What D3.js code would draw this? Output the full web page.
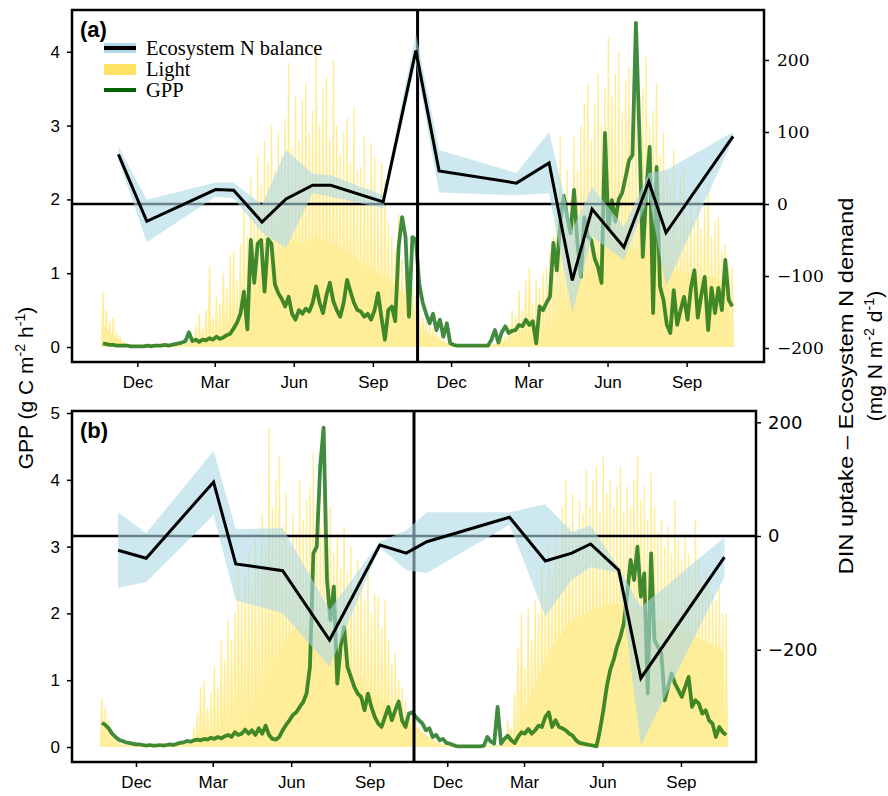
<!DOCTYPE html>
<html>
<head>
<meta charset="utf-8">
<script src="https://cdnjs.cloudflare.com/ajax/libs/d3/7.8.5/d3.min.js"></script>
<style>
  body { margin: 0; background: #fff; }
  svg { display: block; }
</style>
</head>
<body>
<svg></svg>
<script>
const WIDTH = 888;
const HEIGHT = 796;

// series sampled every 4 days (GPP, light peaks) or 8 days (light base) from this day
const startDay = "2016-10-22";
const splitDay = "2017-10-23";

const monthTicks = ["2016-12-01", "2017-03-01", "2017-06-01", "2017-09-01",
                    "2017-12-01", "2018-03-01", "2018-06-01", "2018-09-01"];

// ---- panel (a)
const gppA = [0.05,0.04,0.03,0.03,0.02,0.02,0.02,
  0.02,0.01,0.01,0.01,0.01,0.01,0.02,0.01,0.02,0.02,0.02,0.03,0.02,0.03,
  0.04,0.05,0.06,0.08,0.2,
  0.08,0.1,0.07,0.1,0.09,0.12,0.1,0.14,0.11,0.13,
  0.16,0.18,0.25,0.33,0.45,
  0.75,0.24,1.45,0.87,1.4,1.45,0.75,1.46,1.4,0.85,
  0.73,0.65,0.55,0.68,0.45,0.37,0.5,0.45,0.52,0.48,
  0.6,0.82,0.6,0.46,0.7,0.87,0.62,0.5,0.41,0.6,
  0.91,0.75,0.6,0.5,0.48,0.41,0.45,0.37,0.5,0.73,
  0.4,0.1,0.5,0.55,0.35,1.36,1.76,1.49,0.41,1.49,
  1.45,0.85,0.6,0.45,0.32,0.45,0.23,0.37,0.14,0.32,
  0.05,0.03,0.02,0.02,0.02,0.02,0.02,0.02,0.02,0.02,0.02,0.02,
  0.1,0.23,0.06,0.2,0.28,0.19,0.22,0.23,0.3,0.28,
  0.37,0.3,0.35,0.05,0.55,0.5,0.6,0.68,
  1.41,1.04,1.7,2.05,1.76,1.54,2.13,1.4,0.95,1.76,
  1.5,1.45,1.2,1.08,0.87,2.9,1.6,1.99,1.7,2.0,
  2.09,2.3,2.53,2.6,4.39,2.9,1.22,2.1,2.71,0.46,
  2.44,0.82,0.64,0.3,0.19,0.77,0.3,0.5,0.68,0.37,
  0.8,1.04,0.4,0.7,0.95,0.23,0.8,0.46,0.8,0.5,
  1.18,0.64,0.55];

const lightPeakA = [0.75,0.5,0.35,0.4,0.2,0.15,0.08,
  0.04,0.05,0.03,0.04,0.03,0.05,0.03,0.04,0.03,0.04,0.05,0.03,0.04,0.05,0.04,0.06,0.05,0.07,
  0.1,0.15,0.3,0.45,0.25,0.5,
  1.1,0.4,0.7,0.6,1.0,0.8,1.25,1.3,0.9,1.4,
  2.0,1.5,2.3,1.9,2.6,2.2,2.8,2.5,3.0,2.4,
  2.9,2.6,3.1,3.85,2.7,3.4,2.8,3.35,3.58,2.9,
  3.2,4.1,3.0,3.5,3.66,2.8,3.9,3.0,2.6,2.9,
  3.1,2.5,3.25,2.4,2.44,2.85,2.2,2.76,2.57,2.0,
  2.5,2.26,1.7,1.5,1.3,1.8,1.2,1.0,0.9,0.8,
  0.7,0.5,0.4,0.35,0.3,0.25,0.2,0.15,0.1,0.06,
  0.03,0.03,0.03,0.03,0.03,0.03,0.03,0.03,0.03,0.03,0.03,0.03,0.03,0.03,
  0.05,0.1,0.15,0.3,0.5,0.4,
  0.77,0.5,0.9,1.08,0.6,0.9,0.8,1.0,1.08,1.3,
  1.5,1.76,2.85,1.8,2.4,2.0,2.85,2.4,3.0,3.3,
  3.58,2.8,3.3,3.7,3.0,3.5,4.2,3.4,3.7,4.0,
  3.2,3.6,3.8,3.0,3.4,2.9,3.5,3.93,3.0,3.2,
  3.58,2.6,2.9,2.4,2.2,2.67,2.0,2.3,2.44,1.8,
  2.1,1.7,2.2,1.6,1.9,2.2,1.5,1.7,1.76,1.3,
  1.4,1.1,1.08];

const lightBaseA = [0.3,0.2,0.12,0.06,0.03,
  0.02,0.02,0.02,0.02,0.02,0.02,0.02,0.02,
  0.04,0.06,0.1,0.12,0.15,0.2,0.25,0.35,
  0.5,0.8,1.0,1.2,1.3,1.35,1.4,1.45,1.4,1.45,
  1.5,1.45,1.4,1.4,1.3,1.25,1.2,1.1,1.05,1.0,
  0.95,0.9,0.8,0.7,0.55,0.3,0.2,0.15,0.1,0.05,
  0.02,0.02,0.02,0.02,0.02,0.02,
  0.04,0.06,0.08,0.1,0.12,0.15,0.2,0.25,0.3,0.4,
  0.5,0.7,0.85,0.95,1.05,1.2,1.3,1.35,1.4,1.4,
  1.35,1.3,1.25,1.2,1.15,1.1,1.05,1.0,1.0,1.0,
  0.95,0.95,0.95,0.9,0.9];

const nDatesA = ["2016-11-09","2016-12-12","2017-03-02","2017-03-23","2017-04-25","2017-05-23",
  "2017-06-23","2017-07-14","2017-09-13","2017-10-21","2017-11-17","2018-02-15","2018-03-25",
  "2018-04-21","2018-05-14","2018-06-20","2018-07-19","2018-08-08","2018-10-25"];
const nBalanceA = [69,-24,20,19,-25,7,26,26,3,213,46,29,57,-106,-7,-60,31,-40,94];
const nLowA     = [62,-53,10,8,-40,-61,15,10,-6,196,16,12,15,-152,-45,-78,10,-115,90];
const nHighA    = [80,6,30,30,-1,75,42,40,12,237,75,43,100,-36,24,-32,43,47,100];

// ---- panel (b)
const gppB = [0.36,0.33,0.28,0.2,0.15,0.11,0.09,0.07,0.06,0.05,
  0.04,0.04,0.03,0.02,0.03,0.02,0.02,0.03,0.02,0.03,
  0.04,0.03,0.05,0.06,0.07,0.09,0.08,0.1,0.11,0.1,
  0.12,0.11,0.14,0.12,0.15,0.13,0.16,0.18,0.15,0.22,
  0.18,0.2,0.26,0.2,0.25,0.18,0.28,0.2,0.32,0.18,
  0.12,0.11,0.15,0.25,0.33,0.4,0.48,0.52,0.6,0.67,
  0.8,1.2,2.9,3.0,4.2,4.78,2.5,1.9,2.4,0.95,
  1.5,1.8,1.2,1.05,0.9,0.8,0.75,0.55,0.8,0.6,
  0.45,0.35,0.3,0.45,0.6,0.4,0.55,0.68,0.4,0.3,
  0.5,0.52,0.45,0.4,0.35,0.25,0.28,0.15,0.18,0.1,
  0.12,0.06,0.05,0.03,0.01,0.01,0.01,0.01,0.01,0.01,
  0.01,0.01,0.02,0.15,0.08,0.05,0.6,0.05,0.12,0.17,
  0.1,0.06,0.15,0.22,0.2,0.27,0.2,0.25,0.32,0.3,
  0.45,0.52,0.3,0.4,0.3,0.28,0.25,0.2,0.17,0.1,
  0.06,0.05,0.04,0.03,0.02,0.01,0.25,0.55,0.9,1.15,
  1.3,1.5,1.65,1.85,2.3,2.8,2.5,3.0,2.25,2.6,
  0.8,2.9,1.6,1.5,1.4,0.7,0.9,1.1,0.95,0.85,
  0.75,0.9,1.05,0.6,0.7,0.65,0.5,0.55,0.4,0.35,
  0.15,0.3,0.22,0.18];

const lightPeakB = [0.73,0.6,0.4,0.25,0.15,0.1,
  0.04,0.05,0.04,0.06,0.04,0.05,0.04,0.05,0.06,0.04,0.05,0.04,0.06,0.05,0.04,0.06,0.05,0.07,0.06,0.08,
  0.1,0.3,0.5,0.9,1.0,
  0.6,0.8,1.2,0.9,1.6,1.3,1.9,1.6,2.0,2.7,
  2.2,2.6,2.9,2.4,3.1,2.7,3.5,3.0,4.77,3.6,
  4.0,4.35,3.3,3.8,3.0,3.5,3.2,4.0,3.4,3.7,
  3.9,4.4,3.6,3.3,3.8,3.0,3.6,2.9,3.2,2.7,
  3.3,2.6,3.0,2.4,2.8,2.5,2.2,2.6,2.0,2.3,
  2.25,1.8,2.2,1.6,1.25,1.4,1.0,0.9,0.7,0.5,
  0.45,0.4,0.3,0.25,0.2,0.15,0.12,0.08,0.06,
  0.03,0.03,0.03,0.03,0.03,0.03,0.03,0.03,0.03,0.03,0.03,0.03,0.03,0.03,0.03,0.03,0.03,0.03,
  0.1,0.4,0.3,
  0.8,1.5,2.0,1.2,2.1,1.6,2.2,2.0,2.7,2.3,
  3.0,2.6,3.3,2.9,3.6,4.0,3.3,3.8,3.2,3.7,
  3.5,4.15,3.6,4.0,4.2,3.5,4.34,3.8,4.0,3.6,
  3.9,4.2,3.5,3.9,3.6,4.0,4.35,3.7,3.9,3.4,
  4.1,3.6,3.2,3.4,3.0,3.3,2.9,3.7,3.1,2.8,
  3.2,2.9,2.6,3.4,2.8,2.5,2.7,2.5,2.3,2.2,
  2.4,2.0,2.0];

const lightBaseB = [0.3,0.15,0.05,0.03,
  0.02,0.02,0.02,0.02,0.02,0.02,0.02,0.02,0.02,
  0.03,0.05,0.08,0.1,0.13,0.18,0.25,0.35,
  0.45,0.6,0.8,1.0,1.2,1.4,1.6,1.75,1.8,1.8,
  1.8,1.7,1.6,1.5,1.35,1.2,1.05,0.95,0.85,0.75,
  0.65,0.55,0.5,0.45,0.38,0.3,0.22,0.15,0.08,0.04,
  0.02,0.02,0.02,0.02,0.02,0.02,0.02,0.02,
  0.05,0.12,0.3,0.55,0.8,1.05,1.3,1.5,1.65,1.8,
  1.9,1.95,2.0,2.05,2.1,2.15,2.15,2.15,2.1,2.05,
  2.05,2.0,1.95,1.9,1.85,1.8,1.75,1.7,1.65,1.6,
  1.55,1.5,1.45];

const nDatesB = ["2016-11-10","2016-12-13","2017-03-02","2017-03-28","2017-05-22","2017-07-16",
  "2017-09-13","2017-10-14","2017-11-07","2018-02-12","2018-03-26","2018-04-26","2018-05-18",
  "2018-06-20","2018-07-16","2018-10-22"];
const nBalanceB = [-25,-39,95,-49,-61,-183,-16,-30,-10,33,-44,-30,-14,-60,-250,-37];
const nLowB     = [-91,-81,37,-113,-136,-230,-20,-60,-65,20,-141,-77,-55,-64,-368,-72];
const nHighB    = [42,5,150,12,14,-130,-10,10,42,42,56,7,19,-56,-125,-2];

const legendLabels = ["Ecosystem N balance", "Light", "GPP"];

// ---- layout
const C = {
  light: "#ffee99", lightKey: "#ffe264", gpp: "#006400",
  band: "#add8e6", sans: "'Liberation Sans', Arial, Helvetica, sans-serif",
  narrow: "'Liberation Sans Narrow', 'Arial Narrow', 'Liberation Sans', sans-serif"
};

const panels = [
  { label: "(a)", top: 10, bottom: 362, left: 72, right: 764,
    xDomain: ["2016-09-16", "2018-11-30"], gppDomain: [-0.203, 4.566], nDomain: [-219.4, 269.4],
    gppTicks: [0, 1, 2, 3, 4], nTicks: [-200, -100, 0, 100, 200],
    nFont: "'DejaVu Serif', serif", nFontSize: 17, nPad: 8,
    gpp: gppA, peak: lightPeakA, base: lightBaseA,
    nDates: nDatesA, n: nBalanceA, lo: nLowA, hi: nHighA, legend: true },
  { label: "(b)", top: 411, bottom: 762, left: 72, right: 756,
    xDomain: ["2016-09-17", "2018-11-28"], gppDomain: [-0.2246, 5.03], nDomain: [-397.5, 219.9],
    gppTicks: [0, 1, 2, 3, 4, 5], nTicks: [-200, 0, 200],
    nFont: "'DejaVu Sans', sans-serif", nFontSize: 18, nPad: 7,
    gpp: gppB, peak: lightPeakB, base: lightBaseB,
    nDates: nDatesB, n: nBalanceB, lo: nLowB, hi: nHighB, legend: false }
];

const parseDay = d3.timeParse("%Y-%m-%d");
const t0 = parseDay(startDay);
const stepDates = (n, step) => d3.range(n).map(i => d3.timeDay.offset(t0, i * step));

const svg = d3.select("svg").attr("width", WIDTH).attr("height", HEIGHT)
  .attr("font-family", C.sans);

panels.forEach((p, pi) => {
  const x = d3.scaleTime().domain(p.xDomain.map(parseDay)).range([p.left, p.right]);
  const yG = d3.scaleLinear().domain(p.gppDomain).range([p.bottom, p.top]);
  const yN = d3.scaleLinear().domain(p.nDomain).range([p.bottom, p.top]);

  const clipId = "clip" + pi;
  svg.append("clipPath").attr("id", clipId).append("rect")
    .attr("x", p.left).attr("y", p.top)
    .attr("width", p.right - p.left).attr("height", p.bottom - p.top);

  const g = svg.append("g").attr("clip-path", `url(#${clipId})`);

  // light: smooth base plus daily peaks
  const baseDates = stepDates(p.base.length, 8);
  g.append("path")
    .datum(p.base)
    .attr("fill", C.light)
    .attr("d", d3.area().x((d, i) => x(baseDates[i])).y0(yG(0)).y1(d => yG(d)));

  const peakDates = stepDates(p.peak.length, 4);
  g.append("g").selectAll("path").data(p.peak).join("path")
    .attr("fill", C.light)
    .attr("d", (d, i) => {
      const cx = x(peakDates[i]);
      const b = yG(0), t = yG(d);
      return `M${cx - 2.0},${b}L${cx - 0.7},${t}L${cx + 0.7},${t}L${cx + 2.0},${b}Z`;
    });

  // GPP
  const gppDates = stepDates(p.gpp.length, 4);
  g.append("path")
    .datum(p.gpp)
    .attr("fill", "none")
    .attr("stroke", C.gpp)
    .attr("stroke-opacity", 0.75)
    .attr("stroke-width", 3.8)
    .attr("stroke-linejoin", "round")
    .attr("d", d3.line().x((d, i) => x(gppDates[i])).y(d => yG(d)));

  // reference lines
  svg.append("line")
    .attr("x1", p.left).attr("x2", p.right)
    .attr("y1", yN(0)).attr("y2", yN(0))
    .attr("stroke", "#000").attr("stroke-width", 2.5);
  svg.append("line")
    .attr("x1", x(parseDay(splitDay))).attr("x2", x(parseDay(splitDay)))
    .attr("y1", p.top).attr("y2", p.bottom)
    .attr("stroke", "#000").attr("stroke-width", 3);

  // N balance band + line
  const nd = p.nDates.map(parseDay);
  const gN = svg.append("g").attr("clip-path", `url(#${clipId})`);
  gN.append("path")
    .datum(p.n)
    .attr("fill", C.band)
    .attr("fill-opacity", 0.6)
    .attr("d", d3.area().x((d, i) => x(nd[i])).y0((d, i) => yN(p.lo[i])).y1((d, i) => yN(p.hi[i])));
  gN.append("path")
    .datum(p.n)
    .attr("fill", "none")
    .attr("stroke", "#000")
    .attr("stroke-width", 3)
    .attr("stroke-linejoin", "miter")
    .attr("d", d3.line().x((d, i) => x(nd[i])).y(d => yN(d)));

  // frame
  svg.append("rect")
    .attr("x", p.left).attr("y", p.top)
    .attr("width", p.right - p.left).attr("height", p.bottom - p.top)
    .attr("fill", "none").attr("stroke", "#000").attr("stroke-width", 2.5);

  // axes
  const styleAxis = sel => {
    sel.select(".domain").remove();
    sel.selectAll(".tick line").attr("stroke", "#000").attr("stroke-width", 1.5);
    sel.selectAll(".tick text").attr("fill", "#000");
  };

  svg.append("g")
    .attr("transform", `translate(0,${p.bottom})`)
    .call(d3.axisBottom(x).tickValues(monthTicks.map(parseDay))
      .tickFormat(d3.timeFormat("%b")).tickSize(5).tickPadding(9))
    .call(styleAxis)
    .selectAll("text").attr("font-size", 17).attr("font-family", C.sans);

  svg.append("g")
    .attr("transform", `translate(${p.left},0)`)
    .call(d3.axisLeft(yG).tickValues(p.gppTicks).tickFormat(d3.format("d"))
      .tickSize(5).tickPadding(7))
    .call(styleAxis)
    .selectAll("text").attr("font-size", 17).attr("font-family", C.sans);

  svg.append("g")
    .attr("transform", `translate(${p.right},0)`)
    .call(d3.axisRight(yN).tickValues(p.nTicks).tickSize(5).tickPadding(p.nPad))
    .call(styleAxis)
    .selectAll("text").attr("font-size", p.nFontSize).attr("font-family", p.nFont);

  // panel label
  svg.append("text")
    .attr("x", 80).attr("y", p.top + 27)
    .attr("font-size", 22).attr("font-weight", "bold")
    .text(p.label);

  if (p.legend) {
    const lg = svg.append("g").attr("font-family", "'Liberation Serif', 'Times New Roman', serif")
      .attr("font-size", 20.5);
    const rows = [p.top + 38, p.top + 59, p.top + 80];
    // N balance key
    lg.append("rect").attr("x", 104).attr("y", rows[0] - 5).attr("width", 32).attr("height", 10)
      .attr("fill", C.band);
    lg.append("rect").attr("x", 104).attr("y", rows[0] - 2).attr("width", 32).attr("height", 4)
      .attr("fill", "#000");
    // light key
    lg.append("rect").attr("x", 104).attr("y", rows[1] - 5).attr("width", 32).attr("height", 11)
      .attr("fill", C.lightKey);
    // GPP key
    lg.append("rect").attr("x", 104).attr("y", rows[2] - 2).attr("width", 32).attr("height", 4)
      .attr("fill", C.gpp);
    lg.selectAll("text").data(legendLabels).join("text")
      .attr("x", 146).attr("y", (d, i) => rows[i] + 7)
      .text(d => d);
  }
});

// axis titles
const supText = (sel, parts) => {
  parts.forEach(([t, sup]) => {
    sel.append("tspan")
      .attr("dy", sup === 1 ? -8 : sup === -1 ? 8 : 0)
      .attr("font-size", sup === 1 ? "0.68em" : null)
      .text(t);
  });
};

const leftTitle = svg.append("text")
  .attr("transform", "translate(33,388) rotate(-90)")
  .attr("text-anchor", "middle")
  .attr("font-family", C.narrow)
  .attr("font-size", 21);
supText(leftTitle, [["GPP (g C m", 0], ["-2", 1], [" h", -1], ["-1", 1], [")", -1]]);

svg.append("text")
  .attr("transform", "translate(853,386) rotate(-90)")
  .attr("text-anchor", "middle")
  .attr("font-family", C.narrow)
  .attr("font-size", 21)
  .attr("textLength", 377)
  .attr("lengthAdjust", "spacingAndGlyphs")
  .text("DIN uptake – Ecosystem N demand");

const rightTitle2 = svg.append("text")
  .attr("transform", "translate(882,356) rotate(-90)")
  .attr("text-anchor", "middle")
  .attr("font-family", C.narrow)
  .attr("font-size", 21);
supText(rightTitle2, [["(mg N m", 0], ["-2", 1], [" d", -1], ["-1", 1], [")", -1]]);
</script>
</body>
</html>
